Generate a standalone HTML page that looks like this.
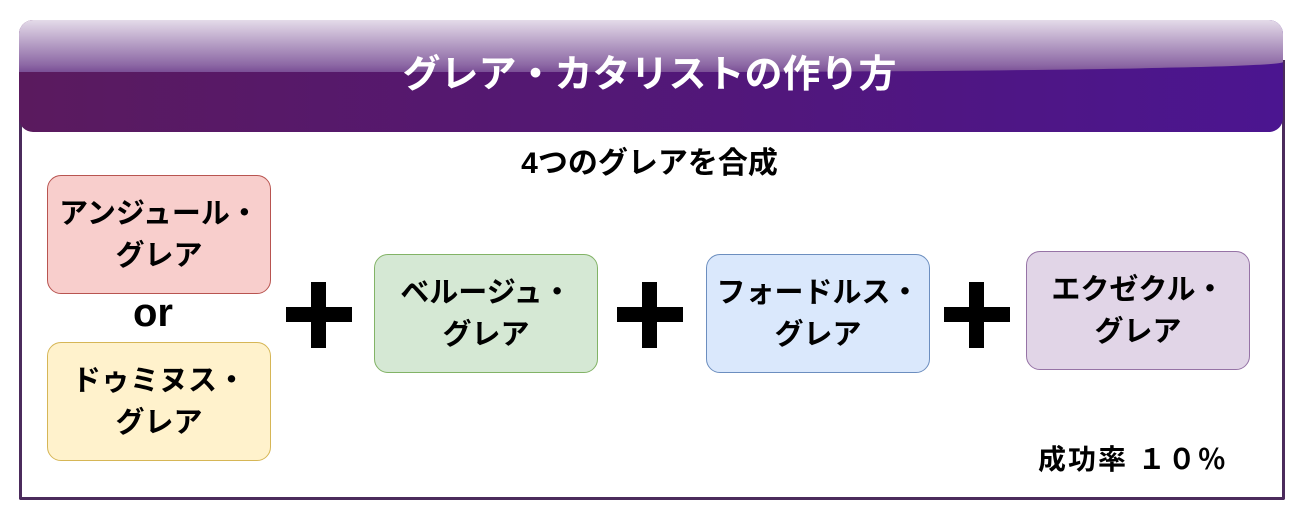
<html><head><style>
body{margin:0;width:1299px;height:519px;background:#fff;position:relative;font-family:"Liberation Sans","Noto Sans CJK JP",sans-serif;overflow:hidden}
.frame{position:absolute;left:19px;top:60px;width:1260px;height:437px;border:3px solid #4b2b5c;border-top:none;border-radius:0 0 2px 2px}
.hdr{position:absolute;left:19px;top:20px;width:1264px;height:112px;border-radius:14px;overflow:hidden;background:linear-gradient(90deg,#5a1a5e,#4b1590 100%)}
.gl{position:absolute;left:0;top:0;width:100%;height:52px;background:linear-gradient(180deg,#e4dbe9,#8e6aa6 85%,#7a4f96);border-radius:0 0 50% 0/0 0 10px 0}
.ht{position:absolute;left:0;top:50px;width:1299px;text-align:center;color:#fff;font-weight:bold;font-size:38px;line-height:50px}
.b{position:absolute;width:222px;height:117px;border-radius:14px;display:flex;align-items:center;justify-content:center;text-align:center;font-weight:bold;font-size:29px;line-height:42px;color:#000}
.p{position:absolute;background:#000}
</style></head><body>
<div class="frame"></div>
<div class="hdr"><div class="gl"></div></div>
<div class="ht">グレア・カタリストの作り方</div>
<div style="position:absolute;left:0;width:1299px;top:143px;text-align:center;font-weight:bold;font-size:30px;line-height:42px">4つのグレアを合成</div>
<div class="b" style="left:47px;top:175px;background:#f8cecc;border:1.5px solid #b85450">アンジュール・<br>グレア</div>
<div style="position:absolute;left:133px;top:290px;font-weight:bold;font-size:40px;line-height:46px">or</div>
<div class="b" style="left:47px;top:342px;background:#fff2cc;border:1.5px solid #d6b656">ドゥミヌス・<br>グレア</div>
<div class="b" style="left:374px;top:254px;background:#d5e8d4;border:1.5px solid #82b366">ベルージュ・<br>グレア</div>
<div class="b" style="left:706px;top:254px;background:#dae8fc;border:1.5px solid #6c8ebf">フォードルス・<br>グレア</div>
<div class="b" style="left:1026px;top:251px;background:#e1d5e7;border:1.5px solid #9673a6">エクゼクル・<br>グレア</div>
<div class="p" style="left:286px;top:307px;width:66px;height:15px"></div><div class="p" style="left:311px;top:282px;width:15px;height:66px"></div>
<div class="p" style="left:617px;top:307px;width:66px;height:15px"></div><div class="p" style="left:642px;top:282px;width:15px;height:66px"></div>
<div class="p" style="left:944px;top:307px;width:66px;height:15px"></div><div class="p" style="left:969px;top:282px;width:15px;height:66px"></div>
<div style="position:absolute;left:1038px;top:441px;font-weight:bold;font-size:28px;line-height:38px;white-space:nowrap;letter-spacing:2px">成功率 １０％</div>
</body></html>
